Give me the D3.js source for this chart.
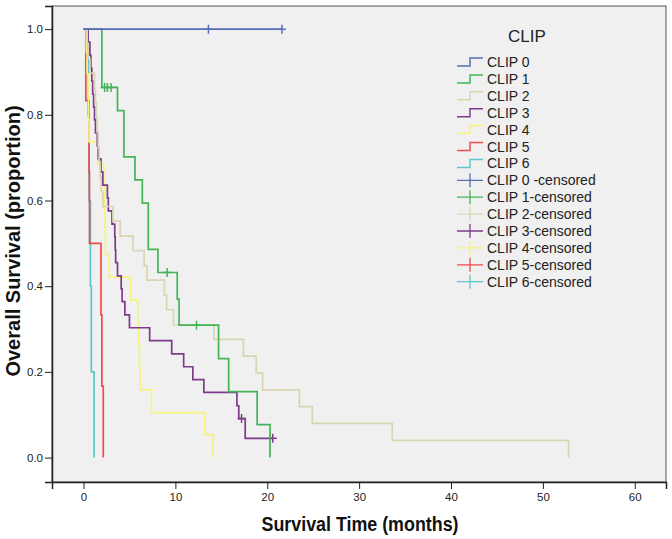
<!DOCTYPE html>
<html>
<head>
<meta charset="utf-8">
<script src="https://cdn.jsdelivr.net/npm/d3@7"></script>
<style>
  html, body { margin: 0; padding: 0; background: #ffffff; }
  svg { display: block; font-family: "Liberation Sans", Arial, sans-serif; }
</style>
</head>
<body>
<svg id="chart" width="672" height="539"></svg>
<script>
// ---- data (time in months, survival proportion after each event) ----
const seriesNames = ["CLIP 0", "CLIP 1", "CLIP 2", "CLIP 3", "CLIP 4", "CLIP 5", "CLIP 6"];
const censorNames = ["CLIP 0 -censored", "CLIP 1-censored", "CLIP 2-censored", "CLIP 3-censored",
                     "CLIP 4-censored", "CLIP 5-censored", "CLIP 6-censored"];
const seriesColors = ["#5a6cb8", "#44b556", "#d9d5b2", "#7d3b8a", "#f6f27c", "#ee4c4e", "#5cc6c8"];

const clip0Times = [];
const clip0Surv  = [];
const clip0Cens  = [13.6, 21.6];

const clip1Times = [2.0, 3.7, 4.4, 5.6, 6.4, 7.05, 8.1, 10.2, 10.4, 14.7, 15.8, 18.9, 20.3];
const clip1Surv  = [0.864, 0.810, 0.702, 0.648, 0.594, 0.486, 0.432, 0.370, 0.309, 0.231, 0.154, 0.077, 0.0];
const clip1Cens  = [2.3, 2.6, 3.0, 9.1, 12.3];

const clip2Times = [0.4, 0.5, 0.7, 1.2, 1.3, 1.4, 1.5, 1.6, 1.7, 1.8, 1.9, 2.1, 3.2, 4.0, 5.4, 6.6, 6.9,
                    8.8, 9.05, 9.8, 14.2, 17.4, 18.8, 19.5, 23.5, 24.9, 33.6, 52.8];
const clip2Surv  = [0.966, 0.931, 0.897, 0.862, 0.828, 0.793, 0.759, 0.724, 0.690, 0.655, 0.621, 0.586,
                    0.552, 0.517, 0.483, 0.448, 0.414, 0.379, 0.345, 0.310, 0.276, 0.237, 0.197, 0.158,
                    0.119, 0.080, 0.040, 0.0];
const clip2Cens  = [];

const clip3Times = [0.5, 0.7, 0.8, 0.9, 1.0, 1.1, 1.2, 1.3, 1.5, 1.6, 1.9, 2.1, 2.6, 2.7, 3.1, 3.4, 3.45,
                    3.5, 3.7, 4.1, 4.2, 4.5, 5.0, 7.2, 9.6, 10.9, 11.9, 13.1, 16.7, 16.9, 17.6];
const clip3Surv  = [0.970, 0.939, 0.909, 0.879, 0.848, 0.818, 0.788, 0.758, 0.727, 0.697, 0.667, 0.636,
                    0.606, 0.576, 0.545, 0.515, 0.485, 0.455, 0.424, 0.394, 0.364, 0.333, 0.303, 0.273,
                    0.242, 0.212, 0.182, 0.152, 0.121, 0.091, 0.045];
const clip3Cens  = [17.2, 20.6];

const clip4Times = [0.3, 0.4, 0.5, 0.55, 0.6, 1.6, 2.2, 2.3, 2.35, 2.4, 2.8, 5.1, 5.9, 6.0, 6.1, 6.15, 7.4, 13.2, 14.1];
const clip4Surv  = [0.947, 0.895, 0.842, 0.789, 0.737, 0.684, 0.632, 0.579, 0.526, 0.474, 0.421, 0.368,
                    0.316, 0.263, 0.211, 0.158, 0.105, 0.053, 0.0];
const clip4Cens  = [];

const clip5Times = [0.25, 0.6, 0.65, 1.9, 2.0, 2.15];
const clip5Surv  = [0.833, 0.667, 0.5, 0.333, 0.167, 0.0];
const clip5Cens  = [];

const clip6Times = [0.5, 0.6, 0.75, 0.85, 1.15];
const clip6Surv  = [0.8, 0.6, 0.4, 0.2, 0.0];
const clip6Cens  = [];

const xTicks = [0, 10, 20, 30, 40, 50, 60];
const yTicks = [0.0, 0.2, 0.4, 0.6, 0.8, 1.0];

const legendTitle = "CLIP";
const xTitle = "Survival Time (months)";
const yTitle = "Overall Survival (proportion)";

// ---- build series ----
const allTimes = [clip0Times, clip1Times, clip2Times, clip3Times, clip4Times, clip5Times, clip6Times];
const allSurv  = [clip0Surv, clip1Surv, clip2Surv, clip3Surv, clip4Surv, clip5Surv, clip6Surv];
const allCens  = [clip0Cens, clip1Cens, clip2Cens, clip3Cens, clip4Cens, clip5Cens, clip6Cens];

function survAt(times, surv, t) {
  let s = 1;
  for (let i = 0; i < times.length; i++) { if (times[i] <= t) s = surv[i]; }
  return s;
}

const series = seriesNames.map((name, i) => {
  const times = allTimes[i], surv = allSurv[i], cens = allCens[i];
  const pts = [[0, 1]].concat(times.map((t, j) => [t, surv[j]]));
  const lastT = d3.max([d3.max(times) || 0, d3.max(cens) || 0]);
  const lastS = surv.length ? surv[surv.length - 1] : 1;
  if (lastT > pts[pts.length - 1][0]) pts.push([lastT, lastS]);
  const censPts = cens.map(t => [t, survAt(times, surv, t)]);
  return { name, color: seriesColors[i], pts, censPts };
});

// ---- layout ----
const svg = d3.select("#chart");
const frame = { left: 52, top: 6, right: 666, bottom: 482 };

const x = d3.scaleLinear().domain([-3.43, 63.4]).range([frame.left, frame.right]);
const y = d3.scaleLinear().domain([-0.057, 1.054]).range([frame.bottom, frame.top]);

svg.append("rect")
  .attr("x", frame.left).attr("y", frame.top)
  .attr("width", frame.right - frame.left).attr("height", frame.bottom - frame.top)
  .attr("fill", "#f0f0f0").attr("stroke", "#555").attr("stroke-width", 1);

// axes
const yAxis = d3.axisLeft(y).tickValues(yTicks).tickFormat(d3.format(".1f")).tickSize(7).tickPadding(2);
const gy = svg.append("g").attr("transform", `translate(${frame.left},0)`).call(yAxis);
const xAxis = d3.axisBottom(x).tickValues(xTicks).tickFormat(d3.format("d")).tickSize(7).tickPadding(4);
const gx = svg.append("g").attr("transform", `translate(0,${frame.bottom})`).call(xAxis);
[gy, gx].forEach(g => {
  g.select(".domain").attr("stroke", "#222").attr("stroke-width", 1.5);
  g.selectAll(".tick line").attr("stroke", "#222").attr("stroke-width", 1);
  g.selectAll(".tick text").attr("fill", "#222").style("font-size", "11.5px")
    .style("font-family", "'Liberation Sans', Arial, sans-serif");
});

// axis titles
svg.append("text")
  .attr("x", 360).attr("y", 531)
  .attr("text-anchor", "middle").attr("font-weight", "bold").attr("font-size", 20).attr("fill", "#111")
  .attr("textLength", 197).attr("lengthAdjust", "spacingAndGlyphs")
  .text(xTitle);
svg.append("text")
  .attr("transform", "translate(19.5,241) rotate(-90)")
  .attr("text-anchor", "middle").attr("font-weight", "bold").attr("font-size", 20).attr("fill", "#111")
  .text(yTitle);

// curves
const line = d3.line().x(d => x(d[0])).y(d => y(d[1])).curve(d3.curveStepAfter);
const drawOrder = [6, 5, 4, 3, 2, 1, 0];
const gCurves = svg.append("g");
drawOrder.forEach(i => {
  const s = series[i];
  gCurves.append("path").attr("d", line(s.pts)).attr("fill", "none")
    .attr("stroke", s.color).attr("stroke-width", 1.7).attr("stroke-linejoin", "miter");
  s.censPts.forEach(p => {
    const cx = x(p[0]), cy = y(p[1]);
    gCurves.append("path")
      .attr("d", `M${cx - 4},${cy}H${cx + 4}M${cx},${cy - 4.5}V${cy + 4.5}`)
      .attr("stroke", s.color).attr("stroke-width", 1.5).attr("fill", "none");
  });
});

// legend
const lg = svg.append("g");
const lgX = 457, lgTextX = 487, lgY0 = 62, lgStep = 16.9;
lg.append("text").attr("x", 527).attr("y", 41.5).attr("text-anchor", "middle")
  .attr("font-size", 17).attr("fill", "#222").text(legendTitle);

series.forEach((s, i) => {
  const yy = lgY0 + i * lgStep;
  lg.append("path")
    .attr("d", `M${lgX},${yy + 4}H${lgX + 13}V${yy - 4}H${lgX + 26}`)
    .attr("fill", "none").attr("stroke", s.color).attr("stroke-width", 1.5);
  lg.append("text").attr("x", lgTextX).attr("y", yy + 5)
    .attr("font-size", 14).attr("fill", "#222").text(s.name);
});
series.forEach((s, i) => {
  const yy = lgY0 + (i + 7) * lgStep;
  lg.append("path")
    .attr("d", `M${lgX},${yy}H${lgX + 26}M${lgX + 13},${yy - 7}V${yy + 7}`)
    .attr("fill", "none").attr("stroke", s.color).attr("stroke-width", 1.3);
  lg.append("text").attr("x", lgTextX).attr("y", yy + 5)
    .attr("font-size", 14).attr("fill", "#222").text(censorNames[i]);
});
</script>
</body>
</html>
